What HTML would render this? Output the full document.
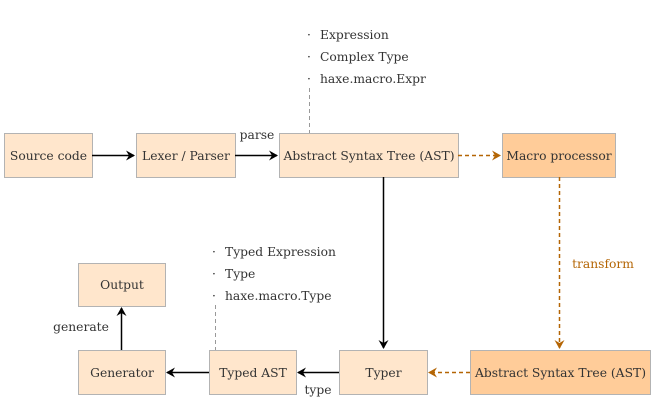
<!DOCTYPE html>
<html><head><style>body{margin:0;background:#fff}svg{display:block}text{font-family:"DejaVu Serif","Liberation Serif",serif;font-size:12.3px;fill:#333}</style></head>
<body>
<svg width="655" height="405" viewBox="0 0 655 405" xmlns="http://www.w3.org/2000/svg">
<defs>
<marker id="a" markerWidth="10" markerHeight="10" refX="8" refY="5" orient="auto" markerUnits="userSpaceOnUse"><path d="M0,0 L9,5 L0,10 L3,5 Z" fill="#000"/></marker>
<marker id="o" markerWidth="10" markerHeight="10" refX="8" refY="5" orient="auto" markerUnits="userSpaceOnUse"><path d="M0,0 L9,5 L0,10 L3,5 Z" fill="#b46504"/></marker>
</defs>
<g stroke="#b3b3b3" stroke-width="1">
<rect x="4.5" y="133.5" width="88" height="44" fill="#ffe6cc"/>
<rect x="136.5" y="133.5" width="99" height="44" fill="#ffe6cc"/>
<rect x="279.5" y="133.5" width="179" height="44" fill="#ffe6cc"/>
<rect x="502.5" y="133.5" width="113" height="44" fill="#ffcc99"/>
<rect x="470.5" y="350.5" width="180" height="44" fill="#ffcc99"/>
<rect x="339.5" y="350.5" width="88" height="44" fill="#ffe6cc"/>
<rect x="209.5" y="350.5" width="87" height="44" fill="#ffe6cc"/>
<rect x="78.5" y="350.5" width="87" height="44" fill="#ffe6cc"/>
<rect x="78.5" y="263.5" width="87" height="43" fill="#ffe6cc"/>
</g>
<g stroke="#000" stroke-width="1.5" fill="none">
<line x1="92" y1="155.5" x2="134" y2="155.5" marker-end="url(#a)"/>
<line x1="235" y1="155.5" x2="277" y2="155.5" marker-end="url(#a)"/>
<line x1="383.5" y1="177" x2="383.5" y2="348" marker-end="url(#a)"/>
<line x1="339" y1="372.5" x2="298" y2="372.5" marker-end="url(#a)"/>
<line x1="209" y1="372.5" x2="167" y2="372.5" marker-end="url(#a)"/>
<line x1="121.5" y1="350" x2="121.5" y2="308" marker-end="url(#a)"/>
</g>
<g stroke="#b46504" stroke-width="1.5" fill="none" stroke-dasharray="4,3">
<line x1="458" y1="155.5" x2="500" y2="155.5" marker-end="url(#o)"/>
<line x1="559.5" y1="177" x2="559.5" y2="348" marker-end="url(#o)"/>
<line x1="470" y1="372.5" x2="429" y2="372.5" marker-end="url(#o)"/>
</g>
<g stroke="#999" stroke-width="1" stroke-dasharray="4,3">
<line x1="309.5" y1="88" x2="309.5" y2="133"/>
<line x1="215.5" y1="305" x2="215.5" y2="350"/>
</g>
<g text-anchor="middle">
<text x="48.5" y="160">Source code</text>
<text x="186" y="160">Lexer / Parser</text>
<text x="369" y="160">Abstract Syntax Tree (AST)</text>
<text x="559" y="160">Macro processor</text>
<text x="560.5" y="377">Abstract Syntax Tree (AST)</text>
<text x="383.5" y="377">Typer</text>
<text x="253" y="377">Typed AST</text>
<text x="122" y="377">Generator</text>
<text x="122" y="289">Output</text>
<text x="257" y="139">parse</text>
<text x="318" y="394">type</text>
<text x="81" y="331">generate</text>
<text x="603" y="268" style="fill:#b46504">transform</text>
</g>
<text x="307" y="39">·</text><text x="320" y="39">Expression</text>
<text x="307" y="61">·</text><text x="320" y="61">Complex Type</text>
<text x="307" y="83">·</text><text x="320" y="83">haxe.macro.Expr</text>
<text x="212" y="256">·</text><text x="225" y="256">Typed Expression</text>
<text x="212" y="278">·</text><text x="225" y="278">Type</text>
<text x="212" y="300">·</text><text x="225" y="300">haxe.macro.Type</text>
</svg>
</body></html>
